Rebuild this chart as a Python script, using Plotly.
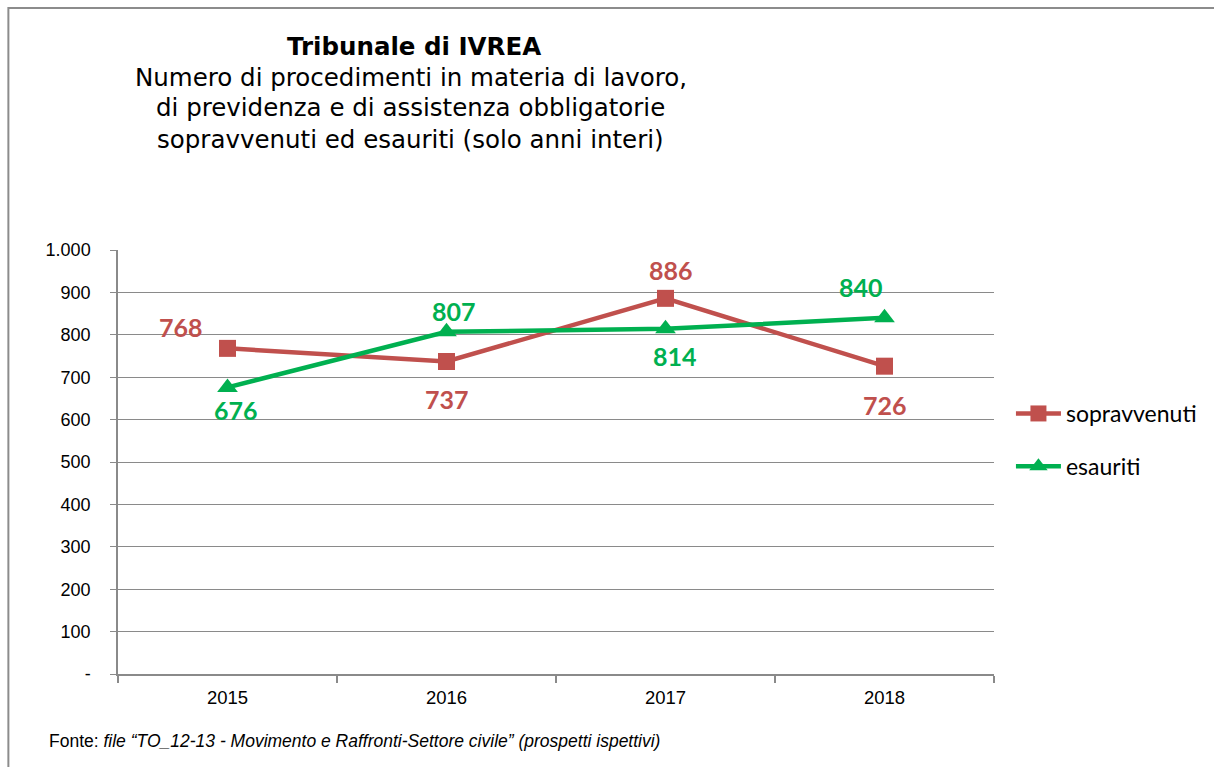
import plotly.graph_objects as go

years = ["2015", "2016", "2017", "2018"]
sopravvenuti = [768, 737, 886, 726]
esauriti = [676, 807, 814, 840]
y_tickvals = [0, 100, 200, 300, 400, 500, 600, 700, 800, 900, 1000]
y_ticktext = ["-", "100", "200", "300", "400", "500", "600", "700", "800", "900", "1.000"]

RED = "#C0504D"
GREEN = "#00B050"
GRID = "#8A8A8A"

# label offsets in pixels (xshift, yshift)
off_sop = [(-47, 21), (0, -37), (5, 28), (0, -39)]
off_esa = [(8, -23), (7, 21), (9, -27), (-24, 31)]

W, H = 1214, 767
L, R, T, B = 118, 217, 250, 93
PW, PH = W - L - R, H - T - B

def px(x):
    return (x - L) / PW

def py(y):
    return (H - B - y) / PH

fig = go.Figure()
fig.add_trace(go.Scatter(
    x=years, y=sopravvenuti, name="sopravvenuti", mode="lines+markers",
    line=dict(color=RED, width=4.5),
    marker=dict(symbol="square", size=17, color=RED),
    legendgroup="a",
))
fig.add_trace(go.Scatter(
    x=years, y=esauriti, name="esauriti", mode="lines+markers",
    line=dict(color=GREEN, width=4.5),
    marker=dict(symbol="triangle-up", size=18, color=GREEN),
    legendgroup="b",
))

annotations = []
for vals, offs, col in [(sopravvenuti, off_sop, RED), (esauriti, off_esa, GREEN)]:
    for i, (yv, (dx, dy)) in enumerate(zip(vals, offs)):
        annotations.append(dict(
            x=i, y=yv, xref="x", yref="y", text=f"<b>{yv}</b>", showarrow=False,
            xshift=dx, yshift=dy, font=dict(family="Lato", size=25, color=col),
        ))

title_lines = [
    ("<b>Tribunale di IVREA</b>", 415, 47),
    ("Numero di procedimenti in materia di lavoro,", 412, 77),
    ("di previdenza e di assistenza obbligatorie", 412, 108),
    ("sopravvenuti ed esauriti (solo anni interi)", 412, 139),
]
for txt, x, y in title_lines:
    annotations.append(dict(
        x=px(x), y=py(y), xref="paper", yref="paper", text=txt, showarrow=False,
        xanchor="center", yanchor="middle",
        font=dict(family="DejaVu Sans", size=24.5, color="#000000"),
    ))

annotations.append(dict(
    x=px(47), y=py(741), xref="paper", yref="paper", showarrow=False,
    xanchor="left", yanchor="middle",
    text="Fonte: <i>file “TO_12-13 - Movimento e Raffronti-Settore civile” (prospetti ispettivi)</i>",
    font=dict(family="Liberation Sans", size=17.5, color="#000000"),
))

fig.update_layout(
    width=W, height=H,
    margin=dict(l=L, r=R, t=T, b=B),
    paper_bgcolor="white", plot_bgcolor="white",
    showlegend=True,
    legend=dict(
        x=px(1014), y=py(392), xanchor="left", yanchor="top",
        font=dict(family="Lato", size=23, color="#000000"),
        tracegroupgap=20, traceorder="grouped", bgcolor="rgba(0,0,0,0)",
        itemwidth=45,
    ),
    annotations=annotations,
    shapes=[dict(
        type="rect", xref="paper", yref="paper",
        x0=px(8), x1=px(1240), y0=py(8), y1=py(800),
        line=dict(color="#8C8C8C", width=2), fillcolor="rgba(0,0,0,0)", layer="below",
    )],
    xaxis=dict(
        type="category", range=[-0.5, 3.5],
        showgrid=False, showline=True, linecolor=GRID, linewidth=1.5,
        ticks="outside", tickson="boundaries", ticklen=7, tickcolor=GRID, tickwidth=1.5,
        tickfont=dict(family="Liberation Sans", size=18.5, color="#000000"),
        ticklabelstandoff=6,
        fixedrange=True,
    ),
    yaxis=dict(
        range=[0, 1000], tickvals=y_tickvals, ticktext=y_ticktext,
        showgrid=True, gridcolor=GRID, gridwidth=1.4,
        showline=True, linecolor=GRID, linewidth=1.5,
        ticks="outside", ticklen=6, tickcolor=GRID, tickwidth=1.4,
        tickfont=dict(family="Liberation Sans", size=18, color="#000000"),
        ticklabelstandoff=16,
        zeroline=False, fixedrange=True,
    ),
)

fig.write_html(
    "out.html",
    config={"displayModeBar": False},
    post_script="document.body.style.margin='0';document.body.style.overflow='hidden';",
)
